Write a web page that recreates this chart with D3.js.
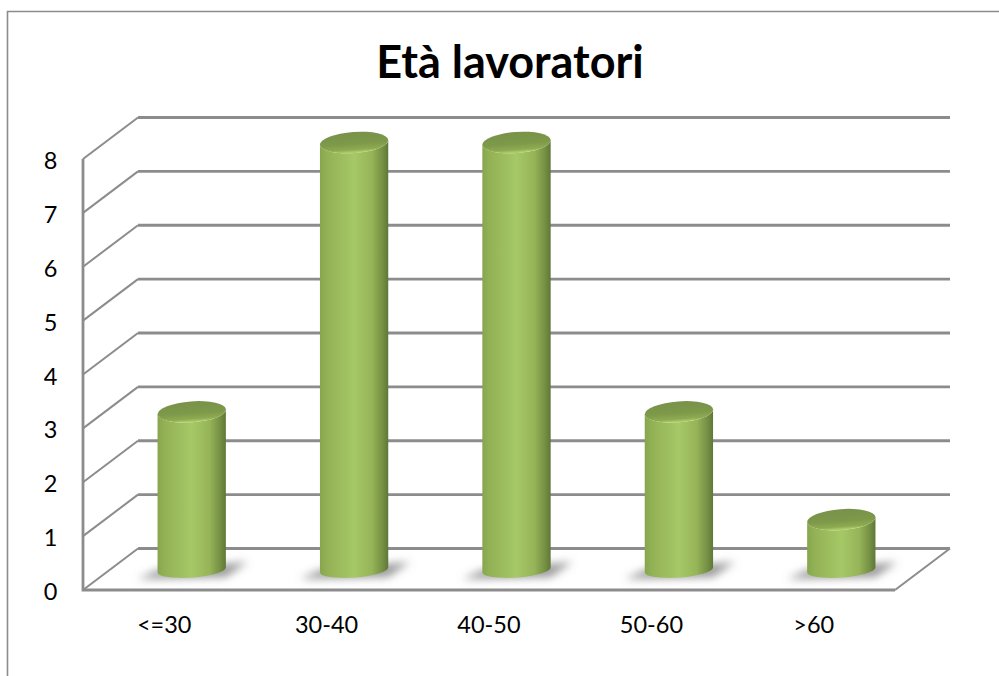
<!DOCTYPE html>
<html>
<head>
<meta charset="utf-8">
<script src="https://cdn.jsdelivr.net/npm/d3@7"></script>
<style>
html, body { margin: 0; padding: 0; background: #fff; }
svg { display: block; }
text { font-family: Lato, "Open Sans", sans-serif; fill: #000; }
</style>
</head>
<body>
<div id="chart"></div>
<script>
const chartTitle = "Età lavoratori";
const categories = ["<=30", "30-40", "40-50", "50-60", ">60"];
const workers = [3, 8, 8, 3, 1];
const yTicks = [0, 1, 2, 3, 4, 5, 6, 7, 8];

const width = 999, height = 676;
const gridColor = "#8c8c8c";

// Oblique projection of the 3D box: the back wall sits up and to the right of the front plane.
const depthX = 55, depthY = -41.5;
const x = d3.scaleBand().domain(categories).range([83, 895]);
const y = d3.scaleLinear().domain([0, 8]).range([590, 159]);

const svg = d3.select("#chart").append("svg").attr("width", width).attr("height", height);
const defs = svg.append("defs");

// Horizontal shading of the cylinder walls
const sideGrad = defs.append("linearGradient").attr("id", "cyl-side");
[[0, "#88a54d"], [0.1, "#92b155"], [0.5, "#a6c866"], [0.76, "#96b458"], [0.92, "#748f43"], [1, "#5f7736"]]
  .forEach(([o, c]) => sideGrad.append("stop").attr("offset", o).attr("stop-color", c));

// Cap shading: darker in the middle, bright along the front rim
const capGrad = defs.append("linearGradient").attr("id", "cyl-cap").attr("x1", 0).attr("x2", 0).attr("y1", 0).attr("y2", 1);
[[0, "#78924a"], [0.55, "#7d9949"], [0.84, "#8eab52"], [0.96, "#aecd68"], [1, "#a2c360"]]
  .forEach(([o, c]) => capGrad.append("stop").attr("offset", o).attr("stop-color", c));

defs.append("filter").attr("id", "soft").attr("x", "-30%").attr("y", "-100%").attr("width", "160%").attr("height", "300%")
  .append("feGaussianBlur").attr("stdDeviation", 4);

// Chart frame, cut off at the right and bottom of the page
svg.append("path")
  .attr("d", `M7.5,${height}V11.5H${width}`)
  .attr("fill", "none").attr("stroke", gridColor).attr("stroke-width", 1.6);

const grid = svg.append("g").attr("fill", "none").attr("stroke", gridColor).attr("stroke-width", 2);

// Wall gridlines: slant on the side wall, then run along the back wall
grid.selectAll("path.slant").data(yTicks).join("path")
  .attr("class", "slant")
  .attr("d", d => {
    const p = d3.path();
    p.moveTo(x.range()[0], y(d));
    p.lineTo(x.range()[0] + depthX, y(d) + depthY);
    return p.toString();
  });
grid.selectAll("path.back").data(yTicks).join("path")
  .attr("class", "back").attr("stroke-width", 2.8)
  .attr("d", d => {
    const p = d3.path();
    p.moveTo(x.range()[0] + depthX, y(d) + depthY);
    p.lineTo(x.range()[1] + depthX, y(d) + depthY);
    return p.toString();
  });

// Floor outline and front vertical axis
grid.append("path").attr("stroke-width", 2.8).attr("d", () => {
  const p = d3.path();
  p.moveTo(x.range()[0], y(8));
  p.lineTo(x.range()[0], y(0));
  p.lineTo(x.range()[1], y(0));
  return p.toString();
});
grid.append("path").attr("d", () => {
  const p = d3.path();
  p.moveTo(x.range()[1], y(0));
  p.lineTo(x.range()[1] + depthX, y(0) + depthY);
  return p.toString();
});

// Cylinders
const barW = 68.5, tilt = -4.2, capRy = 10.5, baseRy = 7.5;
const tdx = barW / 2 * Math.cos(tilt * Math.PI / 180);
const tdy = barW / 2 * Math.sin(tilt * Math.PI / 180);
const centerX = c => x(c) + x.bandwidth() / 2 + depthX / 2;
const capY = v => y(v) - 16.5;
const baseY = y(0) - 20;

const bars = svg.append("g").selectAll("g").data(categories.map((c, i) => ({ c, v: workers[i] }))).join("g");

// Soft floor shadow behind each base
bars.append("path")
  .attr("fill", "#777").attr("fill-opacity", 0.75).attr("filter", "url(#soft)")
  .attr("d", d => {
    const cx = centerX(d.c);
    return `M${cx - 54},${baseY + 9} L${cx - 34},${baseY} L${cx + 56},${baseY - 8} L${cx + 34},${baseY + 7} Z`;
  });

bars.append("path")
  .attr("fill", "url(#cyl-side)")
  .attr("d", d => {
    const cx = centerX(d.c), top = capY(d.v);
    return `M${cx - tdx},${top - tdy} L${cx - tdx},${baseY - tdy}` +
      ` A${barW / 2},${baseRy} ${tilt} 0 0 ${cx + tdx},${baseY + tdy}` +
      ` L${cx + tdx},${top + tdy}` +
      ` A${barW / 2},${capRy} ${tilt} 0 1 ${cx - tdx},${top - tdy} Z`;
  });

bars.append("ellipse")
  .attr("fill", "url(#cyl-cap)")
  .attr("cx", 0).attr("cy", 0).attr("rx", barW / 2).attr("ry", capRy)
  .attr("transform", d => `translate(${centerX(d.c)},${capY(d.v)}) rotate(${tilt})`);

// Value axis labels
svg.append("g").selectAll("text").data(yTicks).join("text")
  .attr("x", 50.5).attr("y", d => y(d) + 10)
  .attr("text-anchor", "middle").attr("font-size", 23.5)
  .text(d => d);

// Category labels
svg.append("g").selectAll("text").data(categories).join("text")
  .attr("x", d => x(d) + x.bandwidth() / 2).attr("y", 633)
  .attr("text-anchor", "middle").attr("font-size", 23.5)
  .text(d => d);

svg.append("text")
  .attr("x", 510).attr("y", 78)
  .attr("text-anchor", "middle").attr("font-size", 45).attr("font-weight", 700)
  .text(chartTitle);
</script>
</body>
</html>
